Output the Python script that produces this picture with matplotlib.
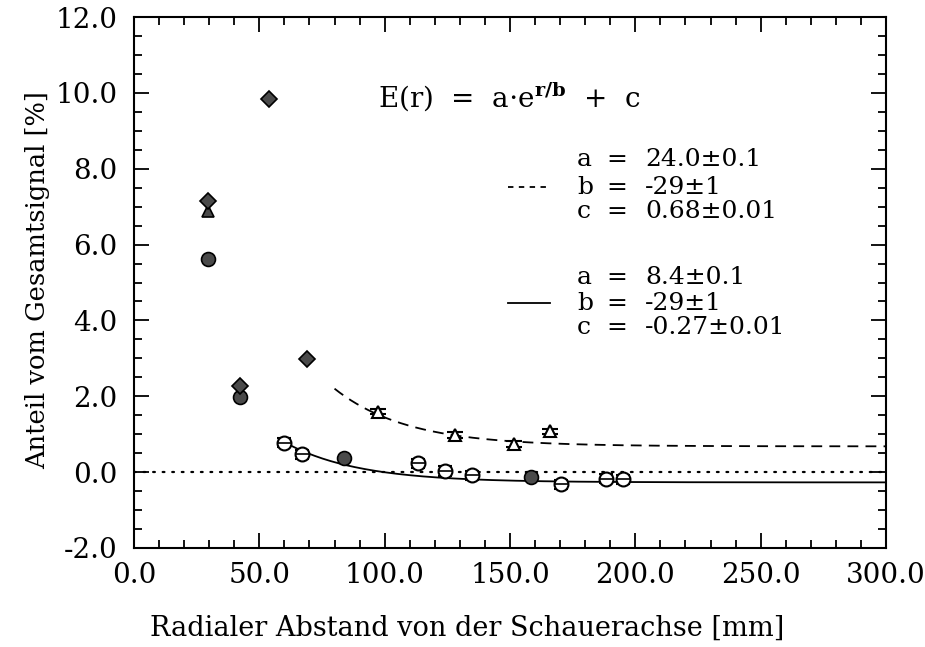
import numpy as np
import matplotlib
matplotlib.use("Agg")
import matplotlib.pyplot as plt
from matplotlib.ticker import MultipleLocator, FormatStrFormatter

plt.rcParams['font.family'] = ['DejaVu Serif']
plt.rcParams['mathtext.fontset'] = 'dejavuserif'
plt.rcParams['axes.unicode_minus'] = False

# ---- data ----
diamond_x = [29.4, 42.3, 53.8, 68.9]
diamond_y = [7.14, 2.28, 9.83, 2.98]
ftri_x = [29.4]
ftri_y = [6.89]
fcirc_x = [29.4, 42.3, 83.8, 158.4]
fcirc_y = [5.63, 1.97, 0.36, -0.12]
otri_x = [97.2, 128.0, 151.7, 166.0]
otri_y = [1.59, 0.98, 0.74, 1.08]
ocirc_x = [60.0, 67.1, 113.4, 124.0, 135.0, 170.2, 188.3, 195.0]
ocirc_y = [0.78, 0.47, 0.23, 0.03, -0.08, -0.32, -0.17, -0.19]

# fit parameters
fit1 = dict(a=24.0, b=-29.0, c=0.68, start=80.0)   # dashed
fit2 = dict(a=8.4, b=-29.0, c=-0.27, start=60.0)   # solid

fig = plt.figure(figsize=(9.25, 6.47), dpi=100)
L, R, T, B = 134, 886, 17, 548
W, H = 925, 647
ax = fig.add_axes([L / W, (H - B) / H, (R - L) / W, (B - T) / H])

ax.set_xlim(0, 300)
ax.set_ylim(-2, 12)

# zero line
ax.plot([0, 300], [0, 0], color='black', lw=1.6, linestyle=(0, (0.8, 3.5)),
        dash_capstyle='round')

# fit curves
for fit, ls in [(fit1, (0, (6, 4))), (fit2, '-')]:
    r = np.linspace(fit['start'], 300, 300)
    ax.plot(r, fit['a'] * np.exp(r / fit['b']) + fit['c'], color='black',
            lw=1.3, linestyle=ls)

fill = '#4a4a4a'
# open circles with error bars
ax.errorbar(ocirc_x, ocirc_y, yerr=0.12, fmt='o', ms=10, mfc='white', mec='black',
            mew=1.5, ecolor='black', elinewidth=1.2, capsize=5, capthick=1.5, zorder=4)
ax.plot(ocirc_x, ocirc_y, linestyle='none', marker='_', ms=10, mew=1.2,
        color='black', zorder=5)
# open triangles with error bars
ax.errorbar(otri_x, otri_y, yerr=0.07, fmt='^', ms=9, mfc='white', mec='black',
            mew=1.5, ecolor='black', elinewidth=1.2, capsize=6, capthick=1.5, zorder=4)
# filled markers
ax.plot(fcirc_x, fcirc_y, linestyle='none', marker='o', ms=10, mfc=fill,
        mec='black', mew=1.2, zorder=5)
ax.plot(ftri_x, ftri_y, linestyle='none', marker='^', ms=9, mfc=fill,
        mec='black', mew=1.2, zorder=5)
ax.plot(diamond_x, diamond_y, linestyle='none', marker='D', ms=8, mfc=fill,
        mec='black', mew=1.2, zorder=6)

# axes styling
for s in ax.spines.values():
    s.set_linewidth(1.5)
ax.xaxis.set_major_locator(MultipleLocator(50))
ax.xaxis.set_minor_locator(MultipleLocator(10))
ax.yaxis.set_major_locator(MultipleLocator(2))
ax.yaxis.set_minor_locator(MultipleLocator(0.5))
ax.xaxis.set_major_formatter(FormatStrFormatter('%.1f'))
ax.yaxis.set_major_formatter(FormatStrFormatter('%.1f'))
ax.tick_params(which='both', direction='in', top=True, right=True, width=1.3)
ax.tick_params(which='major', length=11, labelsize=20)
ax.tick_params(which='minor', length=5.5)
ax.tick_params(axis='x', which='major', pad=10)
ax.tick_params(axis='y', which='major', pad=12)

fig.text(467 / W, 1 - 628 / H, 'Radialer Abstand von der Schauerachse [mm]',
         fontsize=19.5, ha='center', va='center')
fig.text(38 / W, 1 - 280 / H, 'Anteil vom Gesamtsignal [%]', fontsize=18.5,
         ha='center', va='center', rotation=90)

def fx(px):
    return (px - L) / (R - L)

def fy(py):
    return (B - py) / (B - T)

ax.text(fx(378), fy(97), r'E(r)  =  a$\cdot$e$^{\mathbf{r/b}}$  +  c',
        transform=ax.transAxes, fontsize=20, va='center', ha='left')

rows = [
    (160, 'a', '24.0±0.1'), (187, 'b', '-29±1'), (212, 'c', '0.68±0.01'),
    (277, 'a', '8.4±0.1'), (303, 'b', '-29±1'), (328, 'c', '-0.27±0.01'),
]
for py, lab, val in rows:
    ax.text(fx(577), fy(py), lab, transform=ax.transAxes, fontsize=18,
            va='center', ha='left')
    ax.text(fx(617), fy(py), '=', transform=ax.transAxes, fontsize=18,
            va='center', ha='center')
    ax.text(fx(645), fy(py), val, transform=ax.transAxes, fontsize=18,
            va='center', ha='left')

ax.plot([fx(508), fx(550)], [fy(187), fy(187)], transform=ax.transAxes,
        color='black', lw=1.3, linestyle=(0, (3, 3)))
ax.plot([fx(508), fx(550)], [fy(303), fy(303)], transform=ax.transAxes,
        color='black', lw=1.3)

fig.savefig('out.png', dpi=100)
